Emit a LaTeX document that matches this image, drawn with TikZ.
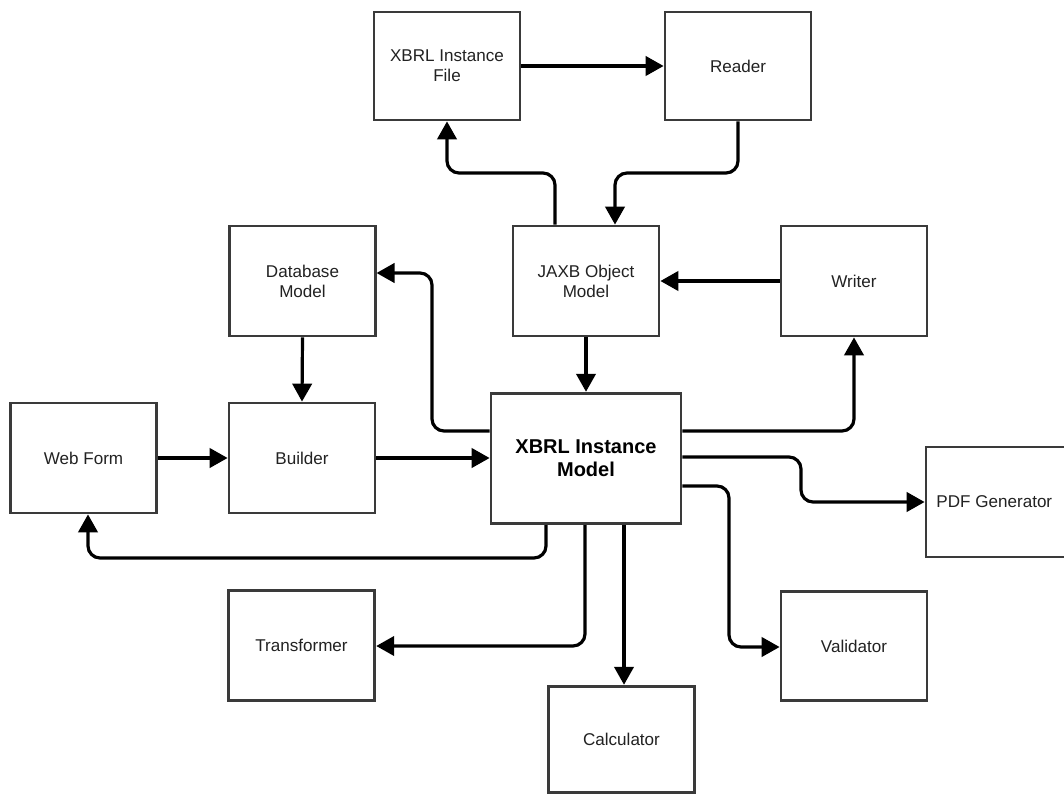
\documentclass[tikz,border=0pt]{standalone}
\usepackage{fontspec}
\setmainfont{Liberation Sans}
\usetikzlibrary{arrows.meta}
\definecolor{boxgray}{HTML}{3A3A3A}
\definecolor{textgray}{HTML}{222222}

\begin{document}
\begin{tikzpicture}[x=0.75pt,y=-0.75pt,
  box/.style={draw=boxgray,line width=2.1pt,fill=white,inner sep=2pt,align=center,
    text=textgray,font=\fontsize{12.8}{15}\selectfont},
  conn/.style={draw=black,line width=2.4pt,rounded corners=9pt,
    -{Triangle[length=13.5pt,width=14.5pt]}},
]
\useasboundingbox (0,0) rectangle (1064,795);
\clip (0,0) rectangle (1064,795);

% boxes (sizes in pt: 1px = 0.75pt)
\node[box,minimum width=109.5pt,minimum height=81pt] (file) at (447,66) {XBRL Instance\\File};
\node[box,minimum width=109.5pt,minimum height=81pt] (reader) at (738,66) {Reader};
\node[box,minimum width=109pt,minimum height=82.5pt] (db) at (302.5,281) {Database\\Model};
\node[box,minimum width=109.5pt,minimum height=82.5pt] (jaxb) at (586,281) {JAXB Object\\Model};
\node[box,minimum width=109.5pt,minimum height=82.5pt] (writer) at (854,281) {Writer};
\node[box,minimum width=110pt,minimum height=82.5pt] (web) at (83.5,458) {Web Form};
\node[box,minimum width=109.5pt,minimum height=82.5pt] (builder) at (302,458) {Builder};
\node[box,minimum width=142.5pt,minimum height=98pt,
      font=\bfseries\fontsize{15}{17.5}\selectfont,text=black] (model) at (586,458.5) {XBRL Instance\\Model};
\node[box,minimum width=109.5pt,minimum height=82.5pt] (pdf) at (999,502) {\hspace*{-7pt}PDF Generator};
\node[box,minimum width=110pt,minimum height=82pt] (trans) at (301.5,645.5) {Transformer};
\node[box,minimum width=109.5pt,minimum height=82pt] (valid) at (854,646) {Validator};
\node[box,minimum width=110pt,minimum height=80pt] (calc) at (621.5,739.5) {Calculator};

% connectors
\draw[conn] (file.east) -- (reader.west);
\draw[conn] (reader.south) -- (738,173) -- (615,173) -- (jaxb.north -| 615,0);
\draw[conn] (jaxb.north -| 555,0) -- (555,173) -- (447,173) -- (file.south);
\draw[conn] (writer.west) -- (jaxb.east);
\draw[conn] (jaxb.south) -- (model.north);
\draw[conn] (db.south) -- (builder.north);
\draw[conn] (web.east) -- (builder.west);
\draw[conn] (builder.east) -- (builder.east -| model.west);
\draw[conn] (model.west |- 0,431) -- (432,431) -- (432,273) -- (db.east |- 0,273);
\draw[conn] (model.east |- 0,431) -- (854,431) -- (writer.south);
\draw[conn] (model.east |- 0,457) -- (801,457) -- (801,502) -- (pdf.west);
\draw[conn] (model.east |- 0,486) -- (729,486) -- (729,647) -- (valid.west |- 0,647);
\draw[conn] (model.south -| 624,0) -- (calc.north -| 624,0);
\draw[conn] (model.south -| 585,0) -- (585,646) -- (trans.east |- 0,646);
\draw[conn] (model.south -| 546,0) -- (546,558) -- (88,558) -- (web.south -| 88,0);
\end{tikzpicture}
\end{document}
